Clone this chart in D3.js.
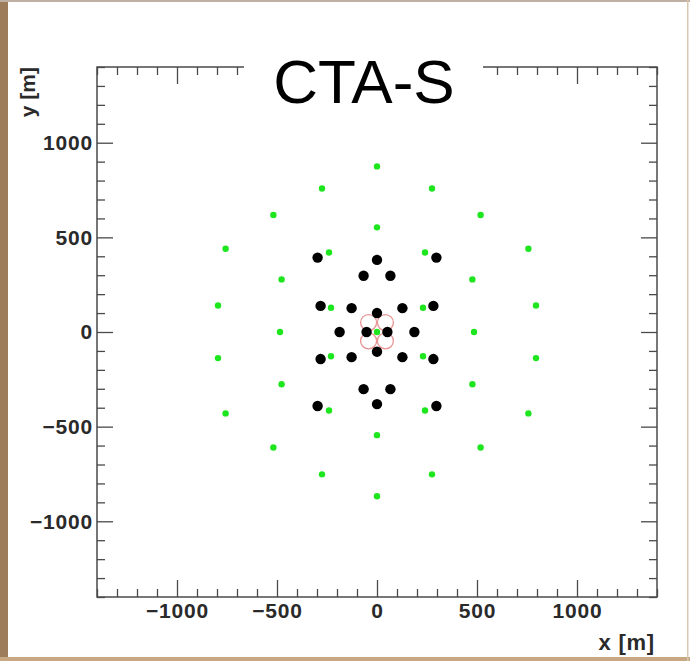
<!DOCTYPE html>
<html>
<head>
<meta charset="utf-8">
<script src="https://cdn.jsdelivr.net/npm/d3@7"></script>
<style>
  body { margin: 0; background: #fff; }
  svg { display: block; }
  text { font-family: "Liberation Sans", Arial, sans-serif; }
</style>
</head>
<body>
<svg id="chart" width="690" height="661"></svg>
<script>
// telescope positions [m]
const greenX = [0, -275, 275, -518, 518, -757, 757, 0, -240, 240, -477, 477, -795, 795, -230, 230,
  -485, 485, 0, -230, 230, -795, 795, -477, 477, -240, 240, -757, 757, 0, -518, 518, -275, 275, 0];
const greenY = [875, 758, 758, 618, 618, 440, 440, 553, 420, 420, 278, 278, 140, 140, 128, 128,
  0, 0, 0, -128, -128, -138, -138, -276, -276, -415, -415, -430, -430, -545, -610, -610, -752, -752, -868];

const blackX = [-297, 297, 0, -67, 67, -282, 282, -127, 127, 0, -187, -52, 52, 187,
  -282, 282, -127, 127, 0, -67, 67, -297, 297, 0];
const blackY = [393, 393, 381, 297, 297, 138, 138, 126, 126, 100, 0, 0, 0, 0,
  -143, -143, -133, -133, -104, -302, -302, -391, -391, -381];

const ringX = [-42, 42, -42, 42];
const ringY = [50, 50, -47, -47];

const xTicks = [-1000, -500, 0, 500, 1000];
const yTicks = [-1000, -500, 0, 500, 1000];
const minorTicks = d3.range(-1400, 1401, 100).filter(v => v % 500 !== 0);

const svg = d3.select("#chart");

// scan edges of the original picture
svg.append("rect").attr("x", 0).attr("y", 0).attr("width", 8).attr("height", 661).attr("fill", "#9c7c5a");
svg.append("rect").attr("x", 0).attr("y", 657).attr("width", 690).attr("height", 4).attr("fill", "#c8a882");
svg.append("rect").attr("x", 0).attr("y", 0).attr("width", 690).attr("height", 2).attr("fill", "#c0b0a4");
svg.append("rect").attr("x", 687).attr("y", 0).attr("width", 1.5).attr("height", 661).attr("fill", "#d8c8b0");

const frame = { left: 97, right: 657, top: 67, bottom: 597 };

const x = d3.scaleLinear().domain([-1400, 1400]).range([frame.left, frame.right]);
const y = d3.scaleLinear().domain([-1400, 1400]).range([frame.bottom, frame.top]);

const axisColor = "#4a4a4a";

function styleAxis(g) {
  g.select(".domain").remove();
  g.selectAll("line").attr("stroke", axisColor).attr("stroke-width", 1.3);
  g.selectAll("text")
    .attr("fill", "#2a2a2a")
    .style("font-size", "21px")
    .style("font-weight", "bold")
    .style("letter-spacing", "0.8px");
}

// bottom
svg.append("g").attr("transform", `translate(0,${frame.bottom})`)
  .call(d3.axisBottom(x).tickValues(xTicks).tickSize(-17).tickPadding(6).tickFormat(d3.format("d")))
  .call(styleAxis);
svg.append("g").attr("transform", `translate(0,${frame.bottom})`)
  .call(d3.axisBottom(x).tickValues(minorTicks).tickSize(-8).tickFormat(""))
  .call(styleAxis);
// top
svg.append("g").attr("transform", `translate(0,${frame.top})`)
  .call(d3.axisTop(x).tickValues(xTicks).tickSize(-17).tickFormat(""))
  .call(styleAxis);
svg.append("g").attr("transform", `translate(0,${frame.top})`)
  .call(d3.axisTop(x).tickValues(minorTicks).tickSize(-8).tickFormat(""))
  .call(styleAxis);
// left
svg.append("g").attr("transform", `translate(${frame.left},0)`)
  .call(d3.axisLeft(y).tickValues(yTicks).tickSize(-16).tickPadding(4).tickFormat(d3.format("d")))
  .call(styleAxis);
svg.append("g").attr("transform", `translate(${frame.left},0)`)
  .call(d3.axisLeft(y).tickValues(minorTicks).tickSize(-8).tickFormat(""))
  .call(styleAxis);
// right
svg.append("g").attr("transform", `translate(${frame.right},0)`)
  .call(d3.axisRight(y).tickValues(yTicks).tickSize(-16).tickFormat(""))
  .call(styleAxis);
svg.append("g").attr("transform", `translate(${frame.right},0)`)
  .call(d3.axisRight(y).tickValues(minorTicks).tickSize(-8).tickFormat(""))
  .call(styleAxis);

svg.append("rect")
  .attr("x", frame.left).attr("y", frame.top)
  .attr("width", frame.right - frame.left).attr("height", frame.bottom - frame.top)
  .attr("fill", "none").attr("stroke", axisColor).attr("stroke-width", 1.5);

// axis titles
svg.append("text")
  .attr("x", frame.right - 2).attr("y", 650)
  .attr("text-anchor", "end")
  .attr("fill", "#2a2a2a")
  .style("font-size", "22px").style("font-weight", "bold")
  .style("letter-spacing", "0.8px")
  .text("x [m]");

svg.append("text")
  .attr("transform", `translate(35,${frame.top}) rotate(-90)`)
  .attr("text-anchor", "end")
  .attr("fill", "#2a2a2a")
  .style("font-size", "21px").style("font-weight", "bold")
  .text("y [m]");

// title box
svg.append("rect")
  .attr("x", 244).attr("y", 40).attr("width", 239).attr("height", 70)
  .attr("fill", "#fff");
svg.append("text")
  .attr("x", 364).attr("y", 103)
  .attr("text-anchor", "middle")
  .attr("fill", "#000")
  .style("font-size", "62px")
  .text("CTA-S");

// markers
const plot = svg.append("g");

plot.selectAll("circle.ring")
  .data(d3.range(ringX.length))
  .join("circle")
  .attr("class", "ring")
  .attr("cx", i => x(ringX[i]))
  .attr("cy", i => y(ringY[i]))
  .attr("r", 8)
  .attr("fill", "none")
  .attr("stroke", "#e89494")
  .attr("stroke-width", 1.3);

plot.selectAll("circle.black")
  .data(d3.range(blackX.length))
  .join("circle")
  .attr("class", "black")
  .attr("cx", i => x(blackX[i]))
  .attr("cy", i => y(blackY[i]))
  .attr("r", 5.2)
  .attr("fill", "#000");

plot.selectAll("circle.green")
  .data(d3.range(greenX.length))
  .join("circle")
  .attr("class", "green")
  .attr("cx", i => x(greenX[i]))
  .attr("cy", i => y(greenY[i]))
  .attr("r", 3.2)
  .attr("fill", "#1ee61e");
</script>
</body>
</html>
